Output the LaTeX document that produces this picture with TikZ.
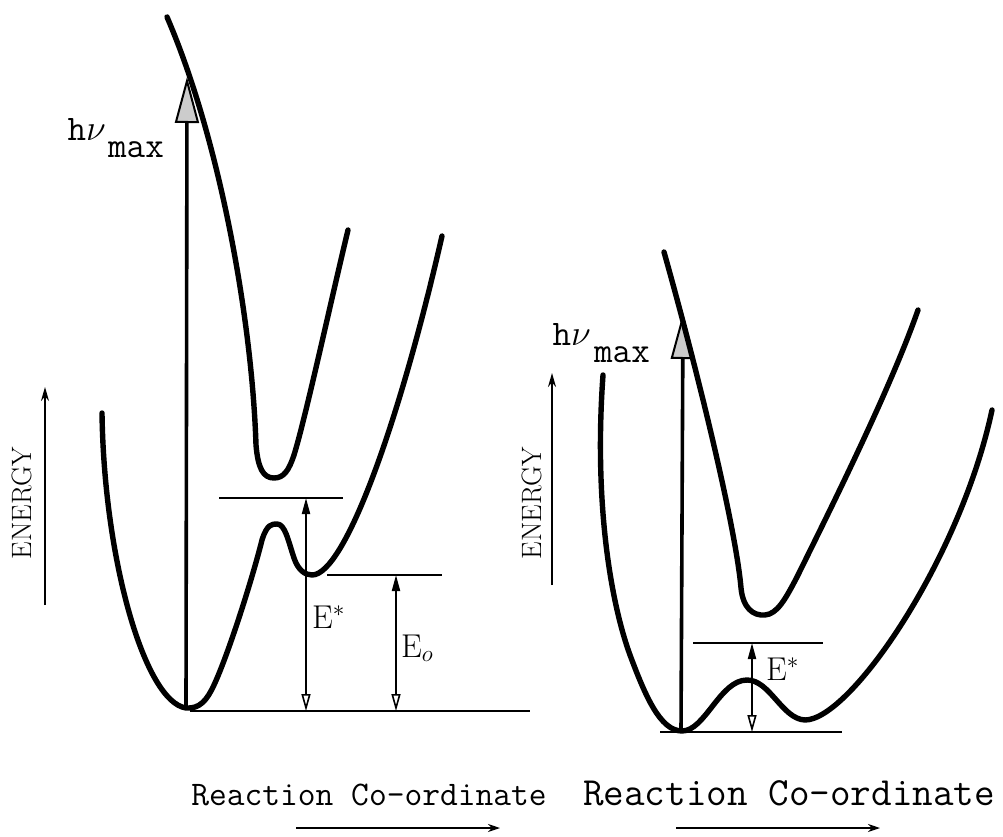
\documentclass[tikz,border=0pt]{standalone}
\usepackage{fix-cm}
\usepackage{fontspec}
\usetikzlibrary{arrows.meta}
\begin{document}
\begin{tikzpicture}[x=1pt,y=-1pt,
  curve/.style={line width=5.4pt, line cap=round, line join=round},
  level/.style={line width=2.6pt},
  dimarrow/.style={line width=2pt, {Triangle[open,length=17pt,width=9pt,line width=1.6pt]}-{Triangle[length=16pt,width=8pt]}},
  photon/.style={line width=3.6pt, -{Triangle[length=46pt,width=24pt,fill=black!20,line width=2pt]}},
  axisarrow/.style={line width=1.8pt, -{Stealth[length=14pt,width=8pt]}},
  coordarrow/.style={line width=2pt, -{Stealth[length=12pt,width=8pt,open]}},
  tt/.style={font=\fontsize{36}{40}\selectfont\ttfamily, inner sep=0pt},
  ttL/.style={font=\fontsize{34.5}{38}\selectfont\ttfamily, inner sep=0pt},
  ttR/.style={font=\fontsize{40}{44}\selectfont\ttfamily, inner sep=0pt},
  rm/.style={font=\fontsize{33}{36}\selectfont, inner sep=0pt},
  axislabel/.style={font=\fontsize{28}{30}\selectfont, inner sep=0pt, rotate=90},
]
\useasboundingbox (0,0) rectangle (1003,837);

% ---------------- left diagram ----------------
\coordinate (Lg) at (186,708);
\coordinate (Lhv) at (187,77);
\coordinate (LbarL) at (219,498);
\coordinate (LbarR) at (343,498);
\coordinate (LeoL) at (327,575);
\coordinate (LeoR) at (442,575);
\coordinate (LbotL) at (190,711);
\coordinate (LbotR) at (530,711);
\coordinate (LEsTop) at (306,498);
\coordinate (LEsBot) at (306,711);
\coordinate (LEoTop) at (396,575);
\coordinate (LEoBot) at (396,711);

\draw[level] (LbarL) -- (LbarR);
\draw[level] (LeoL) -- (LeoR);
\draw[level] (LbotL) -- (LbotR);
\draw[dimarrow] (LEsBot) -- (LEsTop);
\draw[dimarrow] (LEoBot) -- (LEoTop);
\draw[photon] (Lg) -- (Lhv);

% upper (excited) surface
\draw[curve] (167,17) .. controls (220,140) and (252,320) .. (256,445)
  .. controls (258,468) and (263,478) .. (274,478)
  .. controls (284,478) and (289,470) .. (294,455)
  .. controls (305,420) and (330,305) .. (348,230);
% ground surface
\draw[curve] (102,413) .. controls (104,560) and (145,702) .. (186,708)
  .. controls (200,709) and (207,700) .. (214,685)
  .. controls (228,655) and (252,580) .. (262,540)
  .. controls (267,524) and (272,524) .. (277,524)
  .. controls (285,524) and (288,540) .. (294,558)
  .. controls (298,570) and (305,575) .. (312,575)
  .. controls (345,575) and (400,420) .. (442,236);

\node[tt, anchor=base east] (Lh) at (106,141) {h$\nu$};
\node[tt, anchor=base west] (Lmax) at (108,158) {max};
\node[rm, anchor=base west] (LEs) at (312,628) {E$^*$};
\node[rm, anchor=base west] (LEo) at (401,657) {E$_o$};

\node[axislabel] (Lenergy) at (22,503) {ENERGY};
\coordinate (LaxB) at (45,605);
\coordinate (LaxT) at (45,387);
\draw[axisarrow] (LaxB) -- (LaxT);

\node[ttL, anchor=base] (Lrc) at (369,805) {Reaction Co-ordinate};
\coordinate (LrcA) at (296,828);
\coordinate (LrcB) at (500,828);
\draw[coordarrow] (LrcA) -- (LrcB);

% ---------------- right diagram ----------------
\coordinate (Rg) at (681,731);
\coordinate (Rhv) at (683,313);
\coordinate (RbarL) at (693,643);
\coordinate (RbarR) at (823,643);
\coordinate (RbotL) at (660,732);
\coordinate (RbotR) at (842,732);
\coordinate (REsTop) at (752,643);
\coordinate (REsBot) at (752,732);

\draw[level] (RbarL) -- (RbarR);
\draw[level] (RbotL) -- (RbotR);
\draw[dimarrow] (REsBot) -- (REsTop);
\draw[photon] (Rg) -- (Rhv);

% upper (excited) surface
\draw[curve] (664,252) .. controls (700,380) and (736,530) .. (741,588)
  .. controls (743,608) and (753,616) .. (765,615)
  .. controls (777,614) and (785,600) .. (797,577)
  .. controls (830,510) and (890,390) .. (918,310);
% ground surface
\draw[curve] (603,375) .. controls (594,500) and (610,600) .. (630,655)
  .. controls (645,695) and (660,731) .. (682,731)
  .. controls (705,731) and (720,680) .. (747,680)
  .. controls (770,680) and (782,719) .. (805,720)
  .. controls (850,720) and (960,560) .. (992,410);

\node[tt, anchor=base east] (Rh) at (591,345) {h$\nu$};
\node[tt, anchor=base west] (Rmax) at (594,362) {max};
\node[rm, anchor=base west] (REs) at (766,680) {E$^*$};

\node[axislabel] (Renergy) at (532,503) {ENERGY};
\coordinate (RaxB) at (552,585);
\coordinate (RaxT) at (552,373);
\draw[axisarrow] (RaxB) -- (RaxT);

\node[ttR, anchor=base] (Rrc) at (789,805) {Reaction Co-ordinate};
\coordinate (RrcA) at (676,828);
\coordinate (RrcB) at (880,828);
\draw[coordarrow] (RrcA) -- (RrcB);
\end{tikzpicture}
\end{document}
